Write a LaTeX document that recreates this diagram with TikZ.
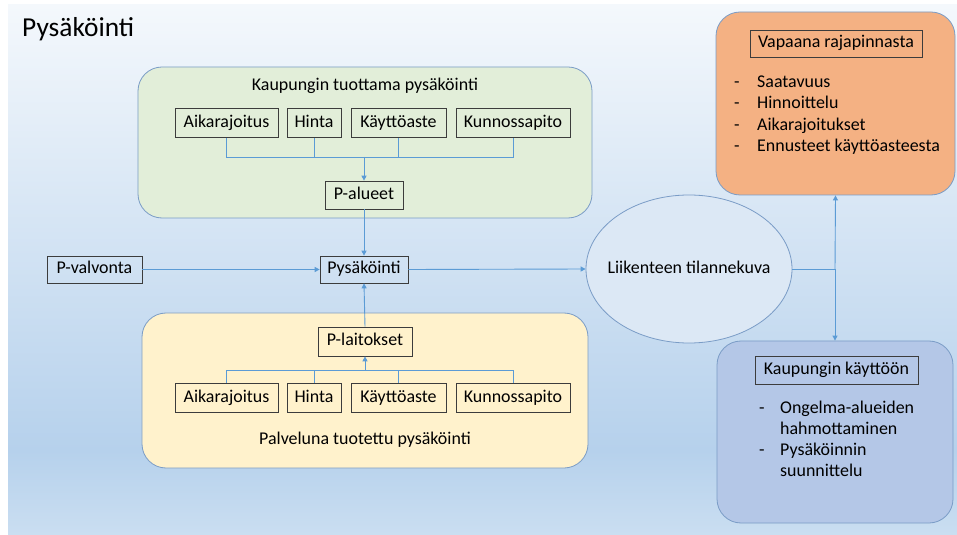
\documentclass[tikz,border=0pt]{standalone}
\usepackage{fontspec}
\setmainfont{Carlito}
\usetikzlibrary{arrows.meta,shapes.geometric}

\definecolor{bgtop}{HTML}{F4F8FC}
\definecolor{bgmid}{HTML}{B6D1EC}
\definecolor{bgbot}{HTML}{CADEF1}
\definecolor{greenfill}{HTML}{E2EED9}
\definecolor{yellowfill}{HTML}{FFF2CC}
\definecolor{orangefill}{HTML}{F4B183}
\definecolor{bluefill}{HTML}{B4C7E7}
\definecolor{frame}{HTML}{7A9CC6}
\definecolor{itemline}{HTML}{3C3C3C}
\definecolor{linkblue}{HTML}{5B9BD5}
\definecolor{ovalfill}{HTML}{DCE8F5}

\tikzset{
  body/.style={font=\fontsize{18}{21}\selectfont, text height=12.5bp, text depth=4bp},
  container/.style={draw=frame, line width=0.8bp, rounded corners=24bp, inner sep=0pt},
  item/.style={body, draw=itemline, line width=0.7bp, inner sep=0pt, minimum height=29bp},
  link/.style={draw=linkblue, line width=0.9bp},
  tolink/.style={link, -{Triangle[length=5bp,width=5bp]}},
  listtext/.style={font=\fontsize{18}{21}\selectfont, anchor=base west, inner sep=0pt},
}

\begin{document}
\begin{tikzpicture}[x=1bp, y=-1bp]
  \useasboundingbox (0,0) rectangle (957,535);

  % background panel
  \shade[top color=bgtop, bottom color=bgmid] (8,5) rectangle (957,450);
  \shade[top color=bgmid, bottom color=bgbot] (8,450) rectangle (957,535);

  \node[anchor=base west, inner sep=0pt, font=\fontsize{27.5}{31}\selectfont] (title) at (22,37) {Pysäköinti};

  % containers
  \node[container, fill=greenfill, minimum width=454bp, minimum height=151bp] (city) at (365,142.5) {};
  \node[container, fill=yellowfill, minimum width=446bp, minimum height=155bp] (service) at (365,390.5) {};
  \node[container, fill=orangefill, minimum width=239bp, minimum height=183bp] (open) at (835.5,103.5) {};
  \node[container, fill=bluefill, minimum width=236bp, minimum height=182bp] (cityuse) at (835,432) {};

  \node[body] (citytitle) at (365,86) {Kaupungin tuottama pysäköinti};
  \node[body] (servicetitle) at (365,440) {Palveluna tuotettu pysäköinti};

  % upper row of factors
  \node[item, minimum width=103bp] (ta) at (226.5,123) {Aikarajoitus};
  \node[item, minimum width=54bp]  (th) at (314,123) {Hinta};
  \node[item, minimum width=95bp]  (tk) at (398.5,123) {Käyttöaste};
  \node[item, minimum width=114bp] (tm) at (513,123) {Kunnossapito};
  \node[item, minimum width=78bp, minimum height=28bp] (alueet) at (364,195) {P-alueet};

  % lower row of factors
  \node[item, minimum width=103bp] (ba) at (226.5,398) {Aikarajoitus};
  \node[item, minimum width=54bp]  (bh) at (314,398) {Hinta};
  \node[item, minimum width=95bp]  (bk) at (398.5,398) {Käyttöaste};
  \node[item, minimum width=114bp] (bm) at (513,398) {Kunnossapito};
  \node[item, minimum width=94bp] (laitokset) at (365,341.5) {P-laitokset};

  % middle line
  \node[item, minimum width=88bp, minimum height=27bp] (pys) at (364,269.5) {Pysäköinti};
  \node[item, minimum width=95bp, minimum height=27bp] (valv) at (94.5,269.5) {P-valvonta};
  \node[draw=frame, line width=0.8bp, fill=ovalfill, ellipse, minimum width=206bp, minimum height=148bp, inner sep=0pt] (kuva) at (689,269) {};
  \node[body] (kuvatext) at (kuva) {Liikenteen tilannekuva};

  % output boxes
  \node[item, minimum width=172bp, minimum height=27bp] (opentitle) at (836,43.5) {Vapaana rajapinnasta};
  \foreach \y/\t [count=\i] in {88/Saatavuus, 109/Hinnoittelu, 130.5/Aikarajoitukset, 152/Ennusteet käyttöasteesta} {
    \node[listtext] (od\i) at (734,\y) {-};
    \node[listtext] (ol\i) at (757,\y) {\t};
  }

  \node[item, minimum width=163bp, minimum height=28bp] (usetitle) at (836.5,370) {Kaupungin käyttöön};
  \node[listtext] (ud1) at (759,413) {-};
  \node[listtext] (ul1) at (780,413) {Ongelma-alueiden};
  \node[listtext] (ul2) at (780,434) {hahmottaminen};
  \node[listtext] (ud2) at (759,455) {-};
  \node[listtext] (ul3) at (780,455) {Pysäköinnin};
  \node[listtext] (ul4) at (780,476) {suunnittelu};

  % junctions
  \coordinate (jtop) at (364,157);
  \coordinate (jbot) at (365,370);
  \coordinate (split) at (835,269);

  % upper tree
  \draw[link] (ta.south) |- (jtop);
  \draw[link] (th.south) |- (jtop);
  \draw[link] (tk.south) |- (jtop);
  \draw[link] (tm.south) |- (jtop);
  \draw[tolink] (jtop) -- (alueet.north);
  \draw[tolink] (alueet.south) -- (pys.north);

  % lower tree
  \draw[link] (ba.north) |- (jbot);
  \draw[link] (bh.north) |- (jbot);
  \draw[link] (bk.north) |- (jbot);
  \draw[link] (bm.north) |- (jbot);
  \draw[tolink] (jbot) -- (laitokset.south);
  \draw[tolink] (laitokset.north) -- (pys.south);

  % main flow
  \draw[tolink] (valv.east) -- (pys.west);
  \draw[tolink] (pys.east) -- (kuva.west);
  \draw[link] (kuva.east) -- (split);
  \draw[tolink] (split) -- (open.south);
  \draw[tolink] (split) -- (cityuse.north);
\end{tikzpicture}
\end{document}
